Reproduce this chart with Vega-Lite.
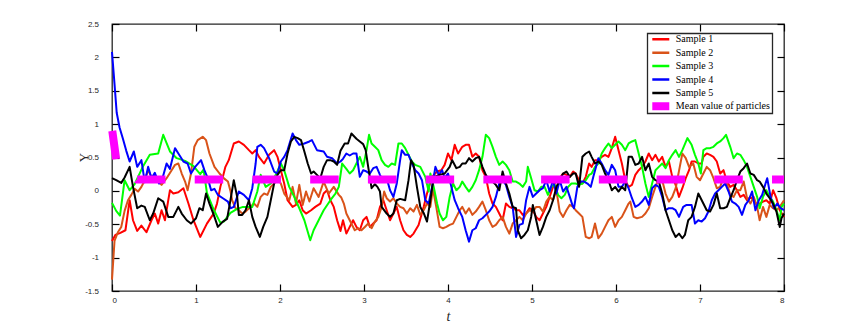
{
"$schema":"https://vega.github.io/schema/vega-lite/v6.json",
"width":672,"height":267,
"autosize":{"type":"none"},
"padding":{"left":112,"top":24,"right":82,"bottom":36},
"background":"white",
"config":{
"view":{"stroke":"#262626","strokeWidth":1.3},
"axis":{"labelFont":"Liberation Sans","labelFontSize":8,"labelColor":"#262626","ticks":true,"tickColor":"#000000","tickOpacity":1,"tickWidth":1.2,"tickSize":-7,"domain":false,"grid":false,"titleFont":"Liberation Serif","titleColor":"#262626","titleFontWeight":"normal","zindex":1}
},
"data":{"values":[
{"s":"Sample 1","t":0,"y":-0.75},{"s":"Sample 1","t":0.04,"y":-0.66},{"s":"Sample 1","t":0.1,"y":-0.63},{"s":"Sample 1","t":0.16,"y":-0.59},{"s":"Sample 1","t":0.21,"y":-0.14},{"s":"Sample 1","t":0.25,"y":-0.44},{"s":"Sample 1","t":0.3,"y":-0.6},{"s":"Sample 1","t":0.35,"y":-0.52},{"s":"Sample 1","t":0.41,"y":-0.62},{"s":"Sample 1","t":0.47,"y":-0.44},{"s":"Sample 1","t":0.51,"y":-0.34},{"s":"Sample 1","t":0.55,"y":-0.49},{"s":"Sample 1","t":0.59,"y":-0.29},{"s":"Sample 1","t":0.63,"y":-0.44},{"s":"Sample 1","t":0.69,"y":0.01},{"s":"Sample 1","t":0.73,"y":-0.04},{"s":"Sample 1","t":0.79,"y":-0.02},{"s":"Sample 1","t":0.85,"y":0.04},{"s":"Sample 1","t":0.91,"y":-0.19},{"s":"Sample 1","t":0.97,"y":-0.44},{"s":"Sample 1","t":1.05,"y":-0.69},{"s":"Sample 1","t":1.13,"y":-0.49},{"s":"Sample 1","t":1.21,"y":-0.34},{"s":"Sample 1","t":1.25,"y":-0.19},{"s":"Sample 1","t":1.29,"y":0.06},{"s":"Sample 1","t":1.35,"y":0.36},{"s":"Sample 1","t":1.39,"y":0.46},{"s":"Sample 1","t":1.45,"y":0.71},{"s":"Sample 1","t":1.51,"y":0.74},{"s":"Sample 1","t":1.57,"y":0.69},{"s":"Sample 1","t":1.63,"y":0.61},{"s":"Sample 1","t":1.67,"y":0.56},{"s":"Sample 1","t":1.71,"y":0.61},{"s":"Sample 1","t":1.75,"y":0.51},{"s":"Sample 1","t":1.81,"y":0.41},{"s":"Sample 1","t":1.87,"y":0.54},{"s":"Sample 1","t":1.93,"y":0.61},{"s":"Sample 1","t":1.97,"y":0.51},{"s":"Sample 1","t":2.01,"y":0.31},{"s":"Sample 1","t":2.05,"y":0.11},{"s":"Sample 1","t":2.09,"y":-0.14},{"s":"Sample 1","t":2.15,"y":-0.24},{"s":"Sample 1","t":2.19,"y":-0.21},{"s":"Sample 1","t":2.23,"y":-0.14},{"s":"Sample 1","t":2.27,"y":-0.29},{"s":"Sample 1","t":2.31,"y":-0.34},{"s":"Sample 1","t":2.37,"y":-0.29},{"s":"Sample 1","t":2.42,"y":-0.24},{"s":"Sample 1","t":2.48,"y":-0.19},{"s":"Sample 1","t":2.52,"y":-0.04},{"s":"Sample 1","t":2.56,"y":0.01},{"s":"Sample 1","t":2.6,"y":-0.14},{"s":"Sample 1","t":2.64,"y":-0.24},{"s":"Sample 1","t":2.68,"y":-0.44},{"s":"Sample 1","t":2.72,"y":-0.6},{"s":"Sample 1","t":2.75,"y":-0.44},{"s":"Sample 1","t":2.79,"y":-0.64},{"s":"Sample 1","t":2.83,"y":-0.54},{"s":"Sample 1","t":2.87,"y":-0.44},{"s":"Sample 1","t":2.91,"y":-0.54},{"s":"Sample 1","t":2.95,"y":-0.59},{"s":"Sample 1","t":2.99,"y":-0.44},{"s":"Sample 1","t":3.03,"y":-0.39},{"s":"Sample 1","t":3.07,"y":-0.54},{"s":"Sample 1","t":3.11,"y":-0.49},{"s":"Sample 1","t":3.15,"y":-0.44},{"s":"Sample 1","t":3.19,"y":-0.24},{"s":"Sample 1","t":3.23,"y":-0.14},{"s":"Sample 1","t":3.27,"y":-0.29},{"s":"Sample 1","t":3.31,"y":-0.44},{"s":"Sample 1","t":3.35,"y":-0.34},{"s":"Sample 1","t":3.39,"y":-0.24},{"s":"Sample 1","t":3.43,"y":-0.44},{"s":"Sample 1","t":3.47,"y":-0.59},{"s":"Sample 1","t":3.51,"y":-0.66},{"s":"Sample 1","t":3.55,"y":-0.69},{"s":"Sample 1","t":3.59,"y":-0.64},{"s":"Sample 1","t":3.65,"y":-0.51},{"s":"Sample 1","t":3.71,"y":-0.24},{"s":"Sample 1","t":3.75,"y":-0.04},{"s":"Sample 1","t":3.81,"y":0.21},{"s":"Sample 1","t":3.87,"y":0.29},{"s":"Sample 1","t":3.92,"y":0.31},{"s":"Sample 1","t":3.96,"y":0.39},{"s":"Sample 1","t":4.0,"y":0.56},{"s":"Sample 1","t":4.04,"y":0.46},{"s":"Sample 1","t":4.08,"y":0.69},{"s":"Sample 1","t":4.12,"y":0.56},{"s":"Sample 1","t":4.17,"y":0.66},{"s":"Sample 1","t":4.21,"y":0.69},{"s":"Sample 1","t":4.25,"y":0.69},{"s":"Sample 1","t":4.29,"y":0.51},{"s":"Sample 1","t":4.33,"y":0.56},{"s":"Sample 1","t":4.37,"y":0.51},{"s":"Sample 1","t":4.41,"y":0.31},{"s":"Sample 1","t":4.45,"y":0.21},{"s":"Sample 1","t":4.49,"y":-0.04},{"s":"Sample 1","t":4.53,"y":-0.19},{"s":"Sample 1","t":4.57,"y":-0.24},{"s":"Sample 1","t":4.61,"y":-0.34},{"s":"Sample 1","t":4.65,"y":-0.44},{"s":"Sample 1","t":4.69,"y":-0.19},{"s":"Sample 1","t":4.73,"y":-0.24},{"s":"Sample 1","t":4.77,"y":-0.26},{"s":"Sample 1","t":4.81,"y":-0.29},{"s":"Sample 1","t":4.85,"y":-0.29},{"s":"Sample 1","t":4.89,"y":-0.36},{"s":"Sample 1","t":4.93,"y":-0.34},{"s":"Sample 1","t":4.97,"y":-0.26},{"s":"Sample 1","t":5.01,"y":-0.29},{"s":"Sample 1","t":5.05,"y":-0.39},{"s":"Sample 1","t":5.09,"y":-0.44},{"s":"Sample 1","t":5.13,"y":-0.34},{"s":"Sample 1","t":5.17,"y":-0.24},{"s":"Sample 1","t":5.21,"y":-0.09},{"s":"Sample 1","t":5.25,"y":0.06},{"s":"Sample 1","t":5.29,"y":0.16},{"s":"Sample 1","t":5.33,"y":0.19},{"s":"Sample 1","t":5.37,"y":0.26},{"s":"Sample 1","t":5.41,"y":0.24},{"s":"Sample 1","t":5.45,"y":0.21},{"s":"Sample 1","t":5.49,"y":0.29},{"s":"Sample 1","t":5.52,"y":0.26},{"s":"Sample 1","t":5.56,"y":0.16},{"s":"Sample 1","t":5.6,"y":0.11},{"s":"Sample 1","t":5.64,"y":0.21},{"s":"Sample 1","t":5.68,"y":0.41},{"s":"Sample 1","t":5.71,"y":0.36},{"s":"Sample 1","t":5.75,"y":0.46},{"s":"Sample 1","t":5.79,"y":0.46},{"s":"Sample 1","t":5.83,"y":0.51},{"s":"Sample 1","t":5.87,"y":0.54},{"s":"Sample 1","t":5.91,"y":0.51},{"s":"Sample 1","t":5.95,"y":0.64},{"s":"Sample 1","t":5.99,"y":0.81},{"s":"Sample 1","t":6.03,"y":0.61},{"s":"Sample 1","t":6.07,"y":0.41},{"s":"Sample 1","t":6.11,"y":0.16},{"s":"Sample 1","t":6.15,"y":0.06},{"s":"Sample 1","t":6.19,"y":0.09},{"s":"Sample 1","t":6.23,"y":0.24},{"s":"Sample 1","t":6.27,"y":0.31},{"s":"Sample 1","t":6.31,"y":0.36},{"s":"Sample 1","t":6.35,"y":0.44},{"s":"Sample 1","t":6.39,"y":0.56},{"s":"Sample 1","t":6.43,"y":0.46},{"s":"Sample 1","t":6.47,"y":0.54},{"s":"Sample 1","t":6.51,"y":0.44},{"s":"Sample 1","t":6.55,"y":0.51},{"s":"Sample 1","t":6.59,"y":0.36},{"s":"Sample 1","t":6.63,"y":0.44},{"s":"Sample 1","t":6.67,"y":0.21},{"s":"Sample 1","t":6.71,"y":0.09},{"s":"Sample 1","t":6.75,"y":-0.09},{"s":"Sample 1","t":6.79,"y":0.04},{"s":"Sample 1","t":6.83,"y":0.19},{"s":"Sample 1","t":6.87,"y":0.31},{"s":"Sample 1","t":6.9,"y":0.44},{"s":"Sample 1","t":6.94,"y":0.44},{"s":"Sample 1","t":6.98,"y":0.41},{"s":"Sample 1","t":7.02,"y":0.41},{"s":"Sample 1","t":7.04,"y":0.51},{"s":"Sample 1","t":7.08,"y":0.56},{"s":"Sample 1","t":7.12,"y":0.54},{"s":"Sample 1","t":7.16,"y":0.51},{"s":"Sample 1","t":7.2,"y":0.44},{"s":"Sample 1","t":7.24,"y":0.26},{"s":"Sample 1","t":7.28,"y":0.31},{"s":"Sample 1","t":7.32,"y":0.14},{"s":"Sample 1","t":7.36,"y":0.06},{"s":"Sample 1","t":7.4,"y":0.09},{"s":"Sample 1","t":7.44,"y":0.01},{"s":"Sample 1","t":7.48,"y":-0.09},{"s":"Sample 1","t":7.52,"y":-0.06},{"s":"Sample 1","t":7.56,"y":-0.14},{"s":"Sample 1","t":7.6,"y":-0.09},{"s":"Sample 1","t":7.64,"y":-0.14},{"s":"Sample 1","t":7.68,"y":-0.21},{"s":"Sample 1","t":7.71,"y":-0.19},{"s":"Sample 1","t":7.75,"y":-0.16},{"s":"Sample 1","t":7.79,"y":-0.14},{"s":"Sample 1","t":7.83,"y":-0.19},{"s":"Sample 1","t":7.87,"y":0.01},{"s":"Sample 1","t":7.91,"y":-0.11},{"s":"Sample 1","t":7.95,"y":-0.29},{"s":"Sample 1","t":8.0,"y":-0.39},
{"s":"Sample 2","t":0,"y":-1.33},{"s":"Sample 2","t":0.03,"y":-0.75},{"s":"Sample 2","t":0.07,"y":-0.62},{"s":"Sample 2","t":0.11,"y":-0.54},{"s":"Sample 2","t":0.15,"y":-0.3},{"s":"Sample 2","t":0.19,"y":-0.14},{"s":"Sample 2","t":0.23,"y":-0.06},{"s":"Sample 2","t":0.27,"y":0.03},{"s":"Sample 2","t":0.31,"y":-0.01},{"s":"Sample 2","t":0.35,"y":0.06},{"s":"Sample 2","t":0.39,"y":0.16},{"s":"Sample 2","t":0.43,"y":0.31},{"s":"Sample 2","t":0.47,"y":0.21},{"s":"Sample 2","t":0.53,"y":0.16},{"s":"Sample 2","t":0.59,"y":0.09},{"s":"Sample 2","t":0.65,"y":0.19},{"s":"Sample 2","t":0.71,"y":0.31},{"s":"Sample 2","t":0.75,"y":0.39},{"s":"Sample 2","t":0.79,"y":0.41},{"s":"Sample 2","t":0.83,"y":0.26},{"s":"Sample 2","t":0.87,"y":0.14},{"s":"Sample 2","t":0.9,"y":0.01},{"s":"Sample 2","t":0.94,"y":0.26},{"s":"Sample 2","t":0.98,"y":0.66},{"s":"Sample 2","t":1.02,"y":0.76},{"s":"Sample 2","t":1.08,"y":0.81},{"s":"Sample 2","t":1.12,"y":0.76},{"s":"Sample 2","t":1.16,"y":0.56},{"s":"Sample 2","t":1.22,"y":0.36},{"s":"Sample 2","t":1.28,"y":0.26},{"s":"Sample 2","t":1.34,"y":0.18},{"s":"Sample 2","t":1.38,"y":0.14},{"s":"Sample 2","t":1.41,"y":0.0},{"s":"Sample 2","t":1.43,"y":-0.14},{"s":"Sample 2","t":1.47,"y":-0.26},{"s":"Sample 2","t":1.51,"y":-0.29},{"s":"Sample 2","t":1.55,"y":-0.34},{"s":"Sample 2","t":1.59,"y":-0.31},{"s":"Sample 2","t":1.63,"y":-0.26},{"s":"Sample 2","t":1.69,"y":-0.19},{"s":"Sample 2","t":1.73,"y":-0.24},{"s":"Sample 2","t":1.77,"y":-0.09},{"s":"Sample 2","t":1.81,"y":-0.04},{"s":"Sample 2","t":1.85,"y":-0.06},{"s":"Sample 2","t":1.89,"y":0.06},{"s":"Sample 2","t":1.93,"y":0.11},{"s":"Sample 2","t":1.97,"y":0.19},{"s":"Sample 2","t":2.01,"y":0.11},{"s":"Sample 2","t":2.05,"y":-0.04},{"s":"Sample 2","t":2.11,"y":-0.14},{"s":"Sample 2","t":2.15,"y":0.06},{"s":"Sample 2","t":2.19,"y":-0.19},{"s":"Sample 2","t":2.23,"y":0.09},{"s":"Sample 2","t":2.27,"y":-0.21},{"s":"Sample 2","t":2.31,"y":-0.01},{"s":"Sample 2","t":2.35,"y":-0.16},{"s":"Sample 2","t":2.4,"y":0.04},{"s":"Sample 2","t":2.46,"y":-0.09},{"s":"Sample 2","t":2.52,"y":0.14},{"s":"Sample 2","t":2.58,"y":-0.04},{"s":"Sample 2","t":2.64,"y":0.06},{"s":"Sample 2","t":2.7,"y":-0.06},{"s":"Sample 2","t":2.73,"y":-0.1},{"s":"Sample 2","t":2.76,"y":-0.19},{"s":"Sample 2","t":2.79,"y":-0.34},{"s":"Sample 2","t":2.83,"y":-0.44},{"s":"Sample 2","t":2.89,"y":-0.59},{"s":"Sample 2","t":2.93,"y":-0.56},{"s":"Sample 2","t":2.97,"y":-0.59},{"s":"Sample 2","t":3.01,"y":-0.54},{"s":"Sample 2","t":3.05,"y":-0.49},{"s":"Sample 2","t":3.09,"y":-0.56},{"s":"Sample 2","t":3.13,"y":-0.46},{"s":"Sample 2","t":3.17,"y":-0.39},{"s":"Sample 2","t":3.21,"y":-0.24},{"s":"Sample 2","t":3.24,"y":-0.01},{"s":"Sample 2","t":3.27,"y":-0.11},{"s":"Sample 2","t":3.31,"y":-0.16},{"s":"Sample 2","t":3.35,"y":-0.11},{"s":"Sample 2","t":3.39,"y":-0.19},{"s":"Sample 2","t":3.43,"y":-0.24},{"s":"Sample 2","t":3.47,"y":-0.26},{"s":"Sample 2","t":3.51,"y":-0.34},{"s":"Sample 2","t":3.55,"y":-0.26},{"s":"Sample 2","t":3.59,"y":-0.31},{"s":"Sample 2","t":3.63,"y":-0.21},{"s":"Sample 2","t":3.67,"y":-0.36},{"s":"Sample 2","t":3.71,"y":-0.29},{"s":"Sample 2","t":3.75,"y":-0.19},{"s":"Sample 2","t":3.79,"y":-0.24},{"s":"Sample 2","t":3.82,"y":0.03},{"s":"Sample 2","t":3.86,"y":-0.24},{"s":"Sample 2","t":3.9,"y":-0.54},{"s":"Sample 2","t":3.94,"y":-0.56},{"s":"Sample 2","t":3.98,"y":-0.54},{"s":"Sample 2","t":4.02,"y":-0.51},{"s":"Sample 2","t":4.06,"y":-0.49},{"s":"Sample 2","t":4.1,"y":-0.39},{"s":"Sample 2","t":4.14,"y":-0.29},{"s":"Sample 2","t":4.17,"y":-0.24},{"s":"Sample 2","t":4.21,"y":-0.34},{"s":"Sample 2","t":4.25,"y":-0.26},{"s":"Sample 2","t":4.29,"y":-0.36},{"s":"Sample 2","t":4.33,"y":-0.31},{"s":"Sample 2","t":4.37,"y":-0.24},{"s":"Sample 2","t":4.41,"y":-0.16},{"s":"Sample 2","t":4.45,"y":-0.29},{"s":"Sample 2","t":4.49,"y":-0.44},{"s":"Sample 2","t":4.53,"y":-0.54},{"s":"Sample 2","t":4.57,"y":-0.51},{"s":"Sample 2","t":4.61,"y":-0.44},{"s":"Sample 2","t":4.65,"y":-0.39},{"s":"Sample 2","t":4.69,"y":-0.54},{"s":"Sample 2","t":4.73,"y":-0.64},{"s":"Sample 2","t":4.77,"y":-0.49},{"s":"Sample 2","t":4.81,"y":-0.44},{"s":"Sample 2","t":4.85,"y":-0.39},{"s":"Sample 2","t":4.89,"y":-0.44},{"s":"Sample 2","t":4.93,"y":-0.34},{"s":"Sample 2","t":4.97,"y":-0.29},{"s":"Sample 2","t":5.01,"y":-0.31},{"s":"Sample 2","t":5.05,"y":-0.24},{"s":"Sample 2","t":5.09,"y":-0.24},{"s":"Sample 2","t":5.13,"y":-0.31},{"s":"Sample 2","t":5.17,"y":-0.16},{"s":"Sample 2","t":5.21,"y":-0.09},{"s":"Sample 2","t":5.25,"y":-0.14},{"s":"Sample 2","t":5.29,"y":0.01},{"s":"Sample 2","t":5.33,"y":-0.31},{"s":"Sample 2","t":5.37,"y":-0.39},{"s":"Sample 2","t":5.41,"y":-0.29},{"s":"Sample 2","t":5.45,"y":-0.21},{"s":"Sample 2","t":5.49,"y":-0.24},{"s":"Sample 2","t":5.52,"y":-0.29},{"s":"Sample 2","t":5.56,"y":-0.34},{"s":"Sample 2","t":5.6,"y":-0.39},{"s":"Sample 2","t":5.64,"y":-0.69},{"s":"Sample 2","t":5.68,"y":-0.71},{"s":"Sample 2","t":5.71,"y":-0.69},{"s":"Sample 2","t":5.75,"y":-0.49},{"s":"Sample 2","t":5.79,"y":-0.71},{"s":"Sample 2","t":5.83,"y":-0.64},{"s":"Sample 2","t":5.87,"y":-0.54},{"s":"Sample 2","t":5.91,"y":-0.44},{"s":"Sample 2","t":5.95,"y":-0.39},{"s":"Sample 2","t":5.99,"y":-0.54},{"s":"Sample 2","t":6.03,"y":-0.44},{"s":"Sample 2","t":6.07,"y":-0.39},{"s":"Sample 2","t":6.11,"y":-0.29},{"s":"Sample 2","t":6.15,"y":-0.19},{"s":"Sample 2","t":6.17,"y":-0.16},{"s":"Sample 2","t":6.21,"y":-0.39},{"s":"Sample 2","t":6.25,"y":-0.41},{"s":"Sample 2","t":6.31,"y":-0.39},{"s":"Sample 2","t":6.35,"y":-0.34},{"s":"Sample 2","t":6.39,"y":-0.26},{"s":"Sample 2","t":6.43,"y":-0.09},{"s":"Sample 2","t":6.47,"y":0.06},{"s":"Sample 2","t":6.51,"y":0.19},{"s":"Sample 2","t":6.55,"y":0.16},{"s":"Sample 2","t":6.59,"y":-0.04},{"s":"Sample 2","t":6.63,"y":-0.16},{"s":"Sample 2","t":6.67,"y":-0.09},{"s":"Sample 2","t":6.71,"y":0.04},{"s":"Sample 2","t":6.75,"y":0.3},{"s":"Sample 2","t":6.79,"y":0.56},{"s":"Sample 2","t":6.83,"y":0.49},{"s":"Sample 2","t":6.87,"y":0.36},{"s":"Sample 2","t":6.92,"y":0.41},{"s":"Sample 2","t":6.96,"y":0.21},{"s":"Sample 2","t":7.0,"y":0.16},{"s":"Sample 2","t":7.04,"y":0.26},{"s":"Sample 2","t":7.08,"y":0.36},{"s":"Sample 2","t":7.12,"y":0.31},{"s":"Sample 2","t":7.16,"y":0.19},{"s":"Sample 2","t":7.2,"y":0.04},{"s":"Sample 2","t":7.24,"y":0.06},{"s":"Sample 2","t":7.28,"y":0.21},{"s":"Sample 2","t":7.32,"y":0.11},{"s":"Sample 2","t":7.36,"y":-0.06},{"s":"Sample 2","t":7.4,"y":-0.09},{"s":"Sample 2","t":7.44,"y":0.01},{"s":"Sample 2","t":7.48,"y":0.01},{"s":"Sample 2","t":7.52,"y":0.14},{"s":"Sample 2","t":7.56,"y":-0.11},{"s":"Sample 2","t":7.6,"y":-0.19},{"s":"Sample 2","t":7.64,"y":-0.09},{"s":"Sample 2","t":7.68,"y":-0.24},{"s":"Sample 2","t":7.71,"y":-0.44},{"s":"Sample 2","t":7.75,"y":-0.24},{"s":"Sample 2","t":7.79,"y":-0.39},{"s":"Sample 2","t":7.83,"y":-0.21},{"s":"Sample 2","t":7.87,"y":-0.26},{"s":"Sample 2","t":7.91,"y":-0.29},{"s":"Sample 2","t":7.95,"y":-0.24},{"s":"Sample 2","t":8.0,"y":-0.14},
{"s":"Sample 3","t":0,"y":-0.18},{"s":"Sample 3","t":0.05,"y":-0.3},{"s":"Sample 3","t":0.095,"y":-0.37},{"s":"Sample 3","t":0.15,"y":0.16},{"s":"Sample 3","t":0.21,"y":0.01},{"s":"Sample 3","t":0.27,"y":0.1},{"s":"Sample 3","t":0.37,"y":0.37},{"s":"Sample 3","t":0.45,"y":0.54},{"s":"Sample 3","t":0.55,"y":0.56},{"s":"Sample 3","t":0.61,"y":0.84},{"s":"Sample 3","t":0.69,"y":0.59},{"s":"Sample 3","t":0.77,"y":0.49},{"s":"Sample 3","t":0.87,"y":0.45},{"s":"Sample 3","t":0.97,"y":0.37},{"s":"Sample 3","t":1.05,"y":0.25},{"s":"Sample 3","t":1.09,"y":0.32},{"s":"Sample 3","t":1.13,"y":-0.03},{"s":"Sample 3","t":1.21,"y":-0.28},{"s":"Sample 3","t":1.29,"y":-0.48},{"s":"Sample 3","t":1.33,"y":-0.46},{"s":"Sample 3","t":1.41,"y":-0.33},{"s":"Sample 3","t":1.49,"y":-0.27},{"s":"Sample 3","t":1.56,"y":-0.24},{"s":"Sample 3","t":1.67,"y":-0.24},{"s":"Sample 3","t":1.73,"y":-0.01},{"s":"Sample 3","t":1.77,"y":0.24},{"s":"Sample 3","t":1.83,"y":0.06},{"s":"Sample 3","t":1.89,"y":0.11},{"s":"Sample 3","t":1.95,"y":0.24},{"s":"Sample 3","t":2.01,"y":0.41},{"s":"Sample 3","t":2.05,"y":0.31},{"s":"Sample 3","t":2.11,"y":0.06},{"s":"Sample 3","t":2.17,"y":-0.09},{"s":"Sample 3","t":2.23,"y":-0.26},{"s":"Sample 3","t":2.29,"y":-0.44},{"s":"Sample 3","t":2.36,"y":-0.74},{"s":"Sample 3","t":2.4,"y":-0.59},{"s":"Sample 3","t":2.46,"y":-0.44},{"s":"Sample 3","t":2.52,"y":-0.29},{"s":"Sample 3","t":2.6,"y":-0.14},{"s":"Sample 3","t":2.66,"y":-0.04},{"s":"Sample 3","t":2.7,"y":0.06},{"s":"Sample 3","t":2.74,"y":0.41},{"s":"Sample 3","t":2.79,"y":0.33},{"s":"Sample 3","t":2.83,"y":0.26},{"s":"Sample 3","t":2.87,"y":0.31},{"s":"Sample 3","t":2.91,"y":0.41},{"s":"Sample 3","t":2.95,"y":0.51},{"s":"Sample 3","t":2.99,"y":0.36},{"s":"Sample 3","t":3.03,"y":0.61},{"s":"Sample 3","t":3.06,"y":0.84},{"s":"Sample 3","t":3.09,"y":0.71},{"s":"Sample 3","t":3.13,"y":0.66},{"s":"Sample 3","t":3.17,"y":0.61},{"s":"Sample 3","t":3.21,"y":0.46},{"s":"Sample 3","t":3.25,"y":0.39},{"s":"Sample 3","t":3.29,"y":0.36},{"s":"Sample 3","t":3.33,"y":0.41},{"s":"Sample 3","t":3.37,"y":0.39},{"s":"Sample 3","t":3.41,"y":0.71},{"s":"Sample 3","t":3.45,"y":0.71},{"s":"Sample 3","t":3.49,"y":0.64},{"s":"Sample 3","t":3.53,"y":0.54},{"s":"Sample 3","t":3.57,"y":0.44},{"s":"Sample 3","t":3.61,"y":0.39},{"s":"Sample 3","t":3.67,"y":0.36},{"s":"Sample 3","t":3.73,"y":0.21},{"s":"Sample 3","t":3.77,"y":-0.01},{"s":"Sample 3","t":3.79,"y":0.26},{"s":"Sample 3","t":3.83,"y":0.06},{"s":"Sample 3","t":3.87,"y":-0.19},{"s":"Sample 3","t":3.9,"y":-0.34},{"s":"Sample 3","t":3.94,"y":-0.44},{"s":"Sample 3","t":3.98,"y":-0.39},{"s":"Sample 3","t":4.02,"y":-0.09},{"s":"Sample 3","t":4.06,"y":0.11},{"s":"Sample 3","t":4.1,"y":0.01},{"s":"Sample 3","t":4.14,"y":0.06},{"s":"Sample 3","t":4.17,"y":0.14},{"s":"Sample 3","t":4.21,"y":0.06},{"s":"Sample 3","t":4.25,"y":-0.01},{"s":"Sample 3","t":4.29,"y":0.06},{"s":"Sample 3","t":4.33,"y":0.16},{"s":"Sample 3","t":4.37,"y":0.31},{"s":"Sample 3","t":4.41,"y":0.51},{"s":"Sample 3","t":4.45,"y":0.84},{"s":"Sample 3","t":4.49,"y":0.79},{"s":"Sample 3","t":4.53,"y":0.66},{"s":"Sample 3","t":4.57,"y":0.51},{"s":"Sample 3","t":4.61,"y":0.39},{"s":"Sample 3","t":4.65,"y":0.44},{"s":"Sample 3","t":4.69,"y":0.39},{"s":"Sample 3","t":4.73,"y":0.31},{"s":"Sample 3","t":4.77,"y":0.14},{"s":"Sample 3","t":4.81,"y":0.14},{"s":"Sample 3","t":4.85,"y":0.11},{"s":"Sample 3","t":4.89,"y":0.06},{"s":"Sample 3","t":4.93,"y":0.14},{"s":"Sample 3","t":4.95,"y":0.36},{"s":"Sample 3","t":4.99,"y":0.19},{"s":"Sample 3","t":5.03,"y":0.01},{"s":"Sample 3","t":5.07,"y":-0.01},{"s":"Sample 3","t":5.11,"y":0.06},{"s":"Sample 3","t":5.15,"y":0.06},{"s":"Sample 3","t":5.19,"y":-0.06},{"s":"Sample 3","t":5.23,"y":0.06},{"s":"Sample 3","t":5.27,"y":0.09},{"s":"Sample 3","t":5.31,"y":-0.06},{"s":"Sample 3","t":5.35,"y":-0.11},{"s":"Sample 3","t":5.39,"y":-0.06},{"s":"Sample 3","t":5.43,"y":0.06},{"s":"Sample 3","t":5.47,"y":0.11},{"s":"Sample 3","t":5.52,"y":0.11},{"s":"Sample 3","t":5.56,"y":0.09},{"s":"Sample 3","t":5.6,"y":0.11},{"s":"Sample 3","t":5.64,"y":0.16},{"s":"Sample 3","t":5.68,"y":0.24},{"s":"Sample 3","t":5.71,"y":0.26},{"s":"Sample 3","t":5.75,"y":0.36},{"s":"Sample 3","t":5.79,"y":0.41},{"s":"Sample 3","t":5.83,"y":0.56},{"s":"Sample 3","t":5.87,"y":0.64},{"s":"Sample 3","t":5.91,"y":0.71},{"s":"Sample 3","t":5.95,"y":0.64},{"s":"Sample 3","t":5.99,"y":0.69},{"s":"Sample 3","t":6.03,"y":0.74},{"s":"Sample 3","t":6.07,"y":0.69},{"s":"Sample 3","t":6.11,"y":0.61},{"s":"Sample 3","t":6.15,"y":0.71},{"s":"Sample 3","t":6.19,"y":0.74},{"s":"Sample 3","t":6.23,"y":0.76},{"s":"Sample 3","t":6.27,"y":0.56},{"s":"Sample 3","t":6.31,"y":0.36},{"s":"Sample 3","t":6.35,"y":0.11},{"s":"Sample 3","t":6.39,"y":-0.09},{"s":"Sample 3","t":6.43,"y":0.11},{"s":"Sample 3","t":6.47,"y":0.31},{"s":"Sample 3","t":6.51,"y":0.36},{"s":"Sample 3","t":6.55,"y":0.41},{"s":"Sample 3","t":6.59,"y":0.34},{"s":"Sample 3","t":6.63,"y":0.46},{"s":"Sample 3","t":6.67,"y":0.54},{"s":"Sample 3","t":6.71,"y":0.61},{"s":"Sample 3","t":6.75,"y":0.51},{"s":"Sample 3","t":6.79,"y":0.61},{"s":"Sample 3","t":6.85,"y":0.79},{"s":"Sample 3","t":6.9,"y":0.69},{"s":"Sample 3","t":6.94,"y":0.54},{"s":"Sample 3","t":6.98,"y":0.41},{"s":"Sample 3","t":7.01,"y":0.26},{"s":"Sample 3","t":7.04,"y":0.61},{"s":"Sample 3","t":7.08,"y":0.64},{"s":"Sample 3","t":7.12,"y":0.64},{"s":"Sample 3","t":7.16,"y":0.66},{"s":"Sample 3","t":7.2,"y":0.71},{"s":"Sample 3","t":7.24,"y":0.74},{"s":"Sample 3","t":7.28,"y":0.79},{"s":"Sample 3","t":7.31,"y":0.84},{"s":"Sample 3","t":7.36,"y":0.66},{"s":"Sample 3","t":7.4,"y":0.49},{"s":"Sample 3","t":7.44,"y":0.56},{"s":"Sample 3","t":7.48,"y":0.54},{"s":"Sample 3","t":7.52,"y":0.46},{"s":"Sample 3","t":7.56,"y":0.36},{"s":"Sample 3","t":7.6,"y":0.21},{"s":"Sample 3","t":7.64,"y":0.06},{"s":"Sample 3","t":7.68,"y":-0.09},{"s":"Sample 3","t":7.71,"y":-0.26},{"s":"Sample 3","t":7.75,"y":-0.09},{"s":"Sample 3","t":7.79,"y":0.01},{"s":"Sample 3","t":7.83,"y":-0.09},{"s":"Sample 3","t":7.87,"y":-0.16},{"s":"Sample 3","t":7.91,"y":-0.29},{"s":"Sample 3","t":7.95,"y":-0.44},{"s":"Sample 3","t":7.97,"y":-0.24},{"s":"Sample 3","t":8.0,"y":-0.19},
{"s":"Sample 4","t":0,"y":2.08},{"s":"Sample 4","t":0.03,"y":1.6},{"s":"Sample 4","t":0.056,"y":1.17},{"s":"Sample 4","t":0.09,"y":0.95},{"s":"Sample 4","t":0.13,"y":0.78},{"s":"Sample 4","t":0.17,"y":0.6},{"s":"Sample 4","t":0.21,"y":0.44},{"s":"Sample 4","t":0.26,"y":0.59},{"s":"Sample 4","t":0.3,"y":0.36},{"s":"Sample 4","t":0.35,"y":0.46},{"s":"Sample 4","t":0.39,"y":0.13},{"s":"Sample 4","t":0.43,"y":0.36},{"s":"Sample 4","t":0.47,"y":0.19},{"s":"Sample 4","t":0.51,"y":0.27},{"s":"Sample 4","t":0.56,"y":0.11},{"s":"Sample 4","t":0.59,"y":0.14},{"s":"Sample 4","t":0.65,"y":0.41},{"s":"Sample 4","t":0.69,"y":0.33},{"s":"Sample 4","t":0.75,"y":0.64},{"s":"Sample 4","t":0.79,"y":0.56},{"s":"Sample 4","t":0.85,"y":0.44},{"s":"Sample 4","t":0.9,"y":0.41},{"s":"Sample 4","t":0.94,"y":0.26},{"s":"Sample 4","t":0.99,"y":0.36},{"s":"Sample 4","t":1.06,"y":0.46},{"s":"Sample 4","t":1.1,"y":0.31},{"s":"Sample 4","t":1.14,"y":0.19},{"s":"Sample 4","t":1.18,"y":0.01},{"s":"Sample 4","t":1.22,"y":0.03},{"s":"Sample 4","t":1.26,"y":-0.06},{"s":"Sample 4","t":1.32,"y":-0.11},{"s":"Sample 4","t":1.38,"y":-0.16},{"s":"Sample 4","t":1.41,"y":-0.26},{"s":"Sample 4","t":1.45,"y":-0.24},{"s":"Sample 4","t":1.51,"y":-0.01},{"s":"Sample 4","t":1.57,"y":-0.06},{"s":"Sample 4","t":1.63,"y":-0.14},{"s":"Sample 4","t":1.67,"y":0.04},{"s":"Sample 4","t":1.71,"y":0.41},{"s":"Sample 4","t":1.73,"y":0.66},{"s":"Sample 4","t":1.77,"y":0.69},{"s":"Sample 4","t":1.81,"y":0.64},{"s":"Sample 4","t":1.87,"y":0.49},{"s":"Sample 4","t":1.93,"y":0.29},{"s":"Sample 4","t":1.97,"y":0.26},{"s":"Sample 4","t":2.01,"y":0.44},{"s":"Sample 4","t":2.05,"y":0.51},{"s":"Sample 4","t":2.09,"y":0.61},{"s":"Sample 4","t":2.15,"y":0.86},{"s":"Sample 4","t":2.19,"y":0.76},{"s":"Sample 4","t":2.23,"y":0.69},{"s":"Sample 4","t":2.29,"y":0.71},{"s":"Sample 4","t":2.35,"y":0.74},{"s":"Sample 4","t":2.38,"y":0.76},{"s":"Sample 4","t":2.44,"y":0.61},{"s":"Sample 4","t":2.52,"y":0.59},{"s":"Sample 4","t":2.56,"y":0.51},{"s":"Sample 4","t":2.62,"y":0.49},{"s":"Sample 4","t":2.68,"y":0.41},{"s":"Sample 4","t":2.72,"y":0.44},{"s":"Sample 4","t":2.75,"y":0.48},{"s":"Sample 4","t":2.79,"y":0.56},{"s":"Sample 4","t":2.83,"y":0.53},{"s":"Sample 4","t":2.87,"y":0.56},{"s":"Sample 4","t":2.91,"y":0.56},{"s":"Sample 4","t":2.95,"y":0.21},{"s":"Sample 4","t":2.99,"y":0.31},{"s":"Sample 4","t":3.03,"y":0.29},{"s":"Sample 4","t":3.07,"y":0.26},{"s":"Sample 4","t":3.11,"y":0.34},{"s":"Sample 4","t":3.15,"y":0.36},{"s":"Sample 4","t":3.19,"y":0.24},{"s":"Sample 4","t":3.23,"y":0.14},{"s":"Sample 4","t":3.27,"y":0.19},{"s":"Sample 4","t":3.31,"y":0.01},{"s":"Sample 4","t":3.35,"y":-0.09},{"s":"Sample 4","t":3.39,"y":0.11},{"s":"Sample 4","t":3.43,"y":0.46},{"s":"Sample 4","t":3.45,"y":0.61},{"s":"Sample 4","t":3.49,"y":0.54},{"s":"Sample 4","t":3.53,"y":0.54},{"s":"Sample 4","t":3.57,"y":0.41},{"s":"Sample 4","t":3.61,"y":0.31},{"s":"Sample 4","t":3.65,"y":0.26},{"s":"Sample 4","t":3.69,"y":0.16},{"s":"Sample 4","t":3.73,"y":-0.14},{"s":"Sample 4","t":3.77,"y":-0.19},{"s":"Sample 4","t":3.81,"y":0.06},{"s":"Sample 4","t":3.85,"y":0.36},{"s":"Sample 4","t":3.89,"y":0.24},{"s":"Sample 4","t":3.93,"y":0.31},{"s":"Sample 4","t":3.96,"y":0.19},{"s":"Sample 4","t":4.0,"y":0.26},{"s":"Sample 4","t":4.04,"y":0.06},{"s":"Sample 4","t":4.08,"y":-0.14},{"s":"Sample 4","t":4.12,"y":-0.26},{"s":"Sample 4","t":4.17,"y":-0.39},{"s":"Sample 4","t":4.21,"y":-0.59},{"s":"Sample 4","t":4.25,"y":-0.76},{"s":"Sample 4","t":4.29,"y":-0.59},{"s":"Sample 4","t":4.33,"y":-0.56},{"s":"Sample 4","t":4.37,"y":-0.44},{"s":"Sample 4","t":4.41,"y":-0.41},{"s":"Sample 4","t":4.45,"y":-0.36},{"s":"Sample 4","t":4.49,"y":-0.31},{"s":"Sample 4","t":4.53,"y":-0.24},{"s":"Sample 4","t":4.57,"y":-0.09},{"s":"Sample 4","t":4.61,"y":0.11},{"s":"Sample 4","t":4.65,"y":0.16},{"s":"Sample 4","t":4.69,"y":0.09},{"s":"Sample 4","t":4.73,"y":-0.09},{"s":"Sample 4","t":4.77,"y":-0.24},{"s":"Sample 4","t":4.81,"y":-0.69},{"s":"Sample 4","t":4.85,"y":-0.51},{"s":"Sample 4","t":4.89,"y":-0.49},{"s":"Sample 4","t":4.93,"y":-0.14},{"s":"Sample 4","t":4.97,"y":0.06},{"s":"Sample 4","t":5.01,"y":-0.09},{"s":"Sample 4","t":5.05,"y":-0.04},{"s":"Sample 4","t":5.09,"y":0.01},{"s":"Sample 4","t":5.13,"y":0.04},{"s":"Sample 4","t":5.17,"y":0.16},{"s":"Sample 4","t":5.21,"y":-0.01},{"s":"Sample 4","t":5.25,"y":0.16},{"s":"Sample 4","t":5.29,"y":-0.04},{"s":"Sample 4","t":5.33,"y":0.16},{"s":"Sample 4","t":5.37,"y":-0.01},{"s":"Sample 4","t":5.41,"y":0.06},{"s":"Sample 4","t":5.45,"y":-0.09},{"s":"Sample 4","t":5.48,"y":-0.21},{"s":"Sample 4","t":5.5,"y":-0.26},{"s":"Sample 4","t":5.54,"y":0.06},{"s":"Sample 4","t":5.58,"y":0.14},{"s":"Sample 4","t":5.62,"y":0.14},{"s":"Sample 4","t":5.66,"y":0.11},{"s":"Sample 4","t":5.7,"y":0.06},{"s":"Sample 4","t":5.73,"y":0.21},{"s":"Sample 4","t":5.79,"y":0.49},{"s":"Sample 4","t":5.83,"y":0.41},{"s":"Sample 4","t":5.87,"y":0.31},{"s":"Sample 4","t":5.91,"y":0.24},{"s":"Sample 4","t":5.95,"y":0.39},{"s":"Sample 4","t":5.99,"y":0.31},{"s":"Sample 4","t":6.03,"y":0.06},{"s":"Sample 4","t":6.07,"y":0.06},{"s":"Sample 4","t":6.11,"y":0.14},{"s":"Sample 4","t":6.15,"y":0.04},{"s":"Sample 4","t":6.19,"y":-0.11},{"s":"Sample 4","t":6.23,"y":-0.24},{"s":"Sample 4","t":6.27,"y":-0.21},{"s":"Sample 4","t":6.31,"y":-0.16},{"s":"Sample 4","t":6.35,"y":-0.09},{"s":"Sample 4","t":6.39,"y":-0.21},{"s":"Sample 4","t":6.43,"y":0.04},{"s":"Sample 4","t":6.47,"y":0.09},{"s":"Sample 4","t":6.51,"y":0.06},{"s":"Sample 4","t":6.55,"y":-0.09},{"s":"Sample 4","t":6.59,"y":-0.29},{"s":"Sample 4","t":6.63,"y":-0.26},{"s":"Sample 4","t":6.67,"y":-0.26},{"s":"Sample 4","t":6.71,"y":-0.29},{"s":"Sample 4","t":6.75,"y":-0.39},{"s":"Sample 4","t":6.8,"y":-0.24},{"s":"Sample 4","t":6.84,"y":-0.21},{"s":"Sample 4","t":6.9,"y":-0.21},{"s":"Sample 4","t":6.94,"y":-0.49},{"s":"Sample 4","t":6.98,"y":-0.44},{"s":"Sample 4","t":7.02,"y":-0.46},{"s":"Sample 4","t":7.06,"y":-0.41},{"s":"Sample 4","t":7.1,"y":-0.31},{"s":"Sample 4","t":7.14,"y":-0.14},{"s":"Sample 4","t":7.18,"y":-0.04},{"s":"Sample 4","t":7.22,"y":0.01},{"s":"Sample 4","t":7.26,"y":0.06},{"s":"Sample 4","t":7.3,"y":0.11},{"s":"Sample 4","t":7.34,"y":-0.01},{"s":"Sample 4","t":7.38,"y":-0.16},{"s":"Sample 4","t":7.42,"y":-0.19},{"s":"Sample 4","t":7.46,"y":-0.24},{"s":"Sample 4","t":7.5,"y":-0.36},{"s":"Sample 4","t":7.54,"y":-0.21},{"s":"Sample 4","t":7.58,"y":-0.14},{"s":"Sample 4","t":7.62,"y":-0.01},{"s":"Sample 4","t":7.66,"y":-0.29},{"s":"Sample 4","t":7.7,"y":-0.14},{"s":"Sample 4","t":7.74,"y":-0.06},{"s":"Sample 4","t":7.78,"y":0.11},{"s":"Sample 4","t":7.8,"y":0.19},{"s":"Sample 4","t":7.84,"y":-0.09},{"s":"Sample 4","t":7.88,"y":-0.26},{"s":"Sample 4","t":7.92,"y":-0.19},{"s":"Sample 4","t":7.96,"y":-0.26},{"s":"Sample 4","t":8.0,"y":-0.29},
{"s":"Sample 5","t":0,"y":0.19},{"s":"Sample 5","t":0.05,"y":0.16},{"s":"Sample 5","t":0.11,"y":0.12},{"s":"Sample 5","t":0.15,"y":0.2},{"s":"Sample 5","t":0.21,"y":0.36},{"s":"Sample 5","t":0.25,"y":0.06},{"s":"Sample 5","t":0.3,"y":-0.26},{"s":"Sample 5","t":0.35,"y":-0.22},{"s":"Sample 5","t":0.39,"y":-0.24},{"s":"Sample 5","t":0.45,"y":-0.44},{"s":"Sample 5","t":0.49,"y":-0.34},{"s":"Sample 5","t":0.55,"y":-0.11},{"s":"Sample 5","t":0.61,"y":-0.16},{"s":"Sample 5","t":0.67,"y":-0.39},{"s":"Sample 5","t":0.73,"y":-0.39},{"s":"Sample 5","t":0.79,"y":-0.24},{"s":"Sample 5","t":0.83,"y":-0.34},{"s":"Sample 5","t":0.89,"y":-0.44},{"s":"Sample 5","t":0.94,"y":-0.49},{"s":"Sample 5","t":1.0,"y":-0.41},{"s":"Sample 5","t":1.04,"y":-0.26},{"s":"Sample 5","t":1.08,"y":-0.29},{"s":"Sample 5","t":1.12,"y":-0.04},{"s":"Sample 5","t":1.16,"y":-0.19},{"s":"Sample 5","t":1.22,"y":-0.39},{"s":"Sample 5","t":1.26,"y":-0.54},{"s":"Sample 5","t":1.32,"y":-0.46},{"s":"Sample 5","t":1.37,"y":-0.42},{"s":"Sample 5","t":1.41,"y":-0.14},{"s":"Sample 5","t":1.45,"y":0.16},{"s":"Sample 5","t":1.49,"y":-0.09},{"s":"Sample 5","t":1.51,"y":-0.36},{"s":"Sample 5","t":1.55,"y":-0.36},{"s":"Sample 5","t":1.59,"y":-0.29},{"s":"Sample 5","t":1.63,"y":-0.14},{"s":"Sample 5","t":1.67,"y":-0.39},{"s":"Sample 5","t":1.71,"y":-0.54},{"s":"Sample 5","t":1.76,"y":-0.69},{"s":"Sample 5","t":1.8,"y":-0.54},{"s":"Sample 5","t":1.85,"y":-0.39},{"s":"Sample 5","t":1.89,"y":-0.14},{"s":"Sample 5","t":1.93,"y":0.11},{"s":"Sample 5","t":1.97,"y":0.24},{"s":"Sample 5","t":2.01,"y":0.31},{"s":"Sample 5","t":2.05,"y":0.31},{"s":"Sample 5","t":2.09,"y":0.56},{"s":"Sample 5","t":2.13,"y":0.74},{"s":"Sample 5","t":2.17,"y":0.81},{"s":"Sample 5","t":2.21,"y":0.79},{"s":"Sample 5","t":2.25,"y":0.76},{"s":"Sample 5","t":2.29,"y":0.59},{"s":"Sample 5","t":2.33,"y":0.41},{"s":"Sample 5","t":2.37,"y":0.26},{"s":"Sample 5","t":2.4,"y":0.29},{"s":"Sample 5","t":2.44,"y":0.24},{"s":"Sample 5","t":2.48,"y":0.19},{"s":"Sample 5","t":2.52,"y":0.36},{"s":"Sample 5","t":2.56,"y":0.46},{"s":"Sample 5","t":2.6,"y":0.46},{"s":"Sample 5","t":2.64,"y":0.44},{"s":"Sample 5","t":2.68,"y":0.39},{"s":"Sample 5","t":2.72,"y":0.6},{"s":"Sample 5","t":2.77,"y":0.71},{"s":"Sample 5","t":2.81,"y":0.71},{"s":"Sample 5","t":2.85,"y":0.86},{"s":"Sample 5","t":2.91,"y":0.78},{"s":"Sample 5","t":2.95,"y":0.74},{"s":"Sample 5","t":2.99,"y":0.7},{"s":"Sample 5","t":3.02,"y":0.61},{"s":"Sample 5","t":3.05,"y":0.36},{"s":"Sample 5","t":3.09,"y":0.04},{"s":"Sample 5","t":3.13,"y":0.1},{"s":"Sample 5","t":3.16,"y":0.06},{"s":"Sample 5","t":3.19,"y":-0.01},{"s":"Sample 5","t":3.21,"y":-0.24},{"s":"Sample 5","t":3.27,"y":-0.34},{"s":"Sample 5","t":3.31,"y":-0.39},{"s":"Sample 5","t":3.35,"y":-0.34},{"s":"Sample 5","t":3.39,"y":-0.14},{"s":"Sample 5","t":3.43,"y":-0.12},{"s":"Sample 5","t":3.49,"y":-0.14},{"s":"Sample 5","t":3.53,"y":0.16},{"s":"Sample 5","t":3.56,"y":0.46},{"s":"Sample 5","t":3.59,"y":0.39},{"s":"Sample 5","t":3.63,"y":0.06},{"s":"Sample 5","t":3.67,"y":-0.24},{"s":"Sample 5","t":3.71,"y":-0.33},{"s":"Sample 5","t":3.75,"y":-0.46},{"s":"Sample 5","t":3.79,"y":-0.14},{"s":"Sample 5","t":3.83,"y":0.21},{"s":"Sample 5","t":3.9,"y":0.24},{"s":"Sample 5","t":3.96,"y":0.26},{"s":"Sample 5","t":4.02,"y":0.36},{"s":"Sample 5","t":4.05,"y":0.46},{"s":"Sample 5","t":4.1,"y":0.34},{"s":"Sample 5","t":4.14,"y":0.36},{"s":"Sample 5","t":4.17,"y":0.41},{"s":"Sample 5","t":4.21,"y":0.41},{"s":"Sample 5","t":4.25,"y":0.49},{"s":"Sample 5","t":4.29,"y":0.44},{"s":"Sample 5","t":4.33,"y":0.49},{"s":"Sample 5","t":4.37,"y":0.51},{"s":"Sample 5","t":4.41,"y":0.36},{"s":"Sample 5","t":4.45,"y":0.24},{"s":"Sample 5","t":4.49,"y":0.16},{"s":"Sample 5","t":4.53,"y":0.14},{"s":"Sample 5","t":4.57,"y":0.09},{"s":"Sample 5","t":4.61,"y":0.01},{"s":"Sample 5","t":4.65,"y":0.29},{"s":"Sample 5","t":4.69,"y":0.11},{"s":"Sample 5","t":4.73,"y":-0.04},{"s":"Sample 5","t":4.77,"y":-0.24},{"s":"Sample 5","t":4.81,"y":-0.26},{"s":"Sample 5","t":4.83,"y":-0.59},{"s":"Sample 5","t":4.87,"y":-0.71},{"s":"Sample 5","t":4.91,"y":-0.66},{"s":"Sample 5","t":4.95,"y":-0.59},{"s":"Sample 5","t":4.99,"y":-0.39},{"s":"Sample 5","t":5.01,"y":-0.21},{"s":"Sample 5","t":5.05,"y":-0.44},{"s":"Sample 5","t":5.09,"y":-0.66},{"s":"Sample 5","t":5.13,"y":-0.54},{"s":"Sample 5","t":5.17,"y":-0.39},{"s":"Sample 5","t":5.21,"y":-0.29},{"s":"Sample 5","t":5.25,"y":-0.14},{"s":"Sample 5","t":5.29,"y":0.06},{"s":"Sample 5","t":5.33,"y":0.16},{"s":"Sample 5","t":5.37,"y":0.26},{"s":"Sample 5","t":5.41,"y":0.29},{"s":"Sample 5","t":5.45,"y":0.21},{"s":"Sample 5","t":5.49,"y":0.26},{"s":"Sample 5","t":5.52,"y":0.26},{"s":"Sample 5","t":5.56,"y":0.06},{"s":"Sample 5","t":5.6,"y":0.51},{"s":"Sample 5","t":5.64,"y":0.56},{"s":"Sample 5","t":5.68,"y":0.59},{"s":"Sample 5","t":5.71,"y":0.51},{"s":"Sample 5","t":5.75,"y":0.41},{"s":"Sample 5","t":5.79,"y":0.44},{"s":"Sample 5","t":5.83,"y":0.39},{"s":"Sample 5","t":5.87,"y":0.26},{"s":"Sample 5","t":5.91,"y":0.16},{"s":"Sample 5","t":5.95,"y":0.01},{"s":"Sample 5","t":5.99,"y":0.06},{"s":"Sample 5","t":6.03,"y":-0.01},{"s":"Sample 5","t":6.07,"y":0.06},{"s":"Sample 5","t":6.11,"y":0.01},{"s":"Sample 5","t":6.15,"y":0.51},{"s":"Sample 5","t":6.19,"y":0.51},{"s":"Sample 5","t":6.23,"y":0.39},{"s":"Sample 5","t":6.27,"y":0.41},{"s":"Sample 5","t":6.31,"y":0.51},{"s":"Sample 5","t":6.35,"y":0.31},{"s":"Sample 5","t":6.39,"y":0.41},{"s":"Sample 5","t":6.43,"y":0.21},{"s":"Sample 5","t":6.47,"y":0.16},{"s":"Sample 5","t":6.51,"y":0.14},{"s":"Sample 5","t":6.55,"y":-0.04},{"s":"Sample 5","t":6.59,"y":-0.29},{"s":"Sample 5","t":6.63,"y":-0.44},{"s":"Sample 5","t":6.67,"y":-0.59},{"s":"Sample 5","t":6.71,"y":-0.69},{"s":"Sample 5","t":6.75,"y":-0.64},{"s":"Sample 5","t":6.79,"y":-0.71},{"s":"Sample 5","t":6.82,"y":-0.66},{"s":"Sample 5","t":6.86,"y":-0.44},{"s":"Sample 5","t":6.9,"y":-0.39},{"s":"Sample 5","t":6.94,"y":-0.24},{"s":"Sample 5","t":6.98,"y":-0.04},{"s":"Sample 5","t":7.04,"y":-0.19},{"s":"Sample 5","t":7.08,"y":-0.29},{"s":"Sample 5","t":7.12,"y":-0.31},{"s":"Sample 5","t":7.16,"y":-0.21},{"s":"Sample 5","t":7.2,"y":-0.04},{"s":"Sample 5","t":7.24,"y":-0.26},{"s":"Sample 5","t":7.28,"y":-0.26},{"s":"Sample 5","t":7.32,"y":-0.24},{"s":"Sample 5","t":7.36,"y":-0.11},{"s":"Sample 5","t":7.4,"y":0.01},{"s":"Sample 5","t":7.44,"y":0.16},{"s":"Sample 5","t":7.48,"y":0.29},{"s":"Sample 5","t":7.52,"y":0.34},{"s":"Sample 5","t":7.56,"y":0.41},{"s":"Sample 5","t":7.6,"y":0.26},{"s":"Sample 5","t":7.64,"y":0.24},{"s":"Sample 5","t":7.68,"y":0.16},{"s":"Sample 5","t":7.71,"y":0.14},{"s":"Sample 5","t":7.75,"y":0.06},{"s":"Sample 5","t":7.79,"y":-0.04},{"s":"Sample 5","t":7.83,"y":-0.11},{"s":"Sample 5","t":7.87,"y":-0.19},{"s":"Sample 5","t":7.91,"y":-0.31},{"s":"Sample 5","t":7.95,"y":-0.54},{"s":"Sample 5","t":7.97,"y":-0.41},{"s":"Sample 5","t":8.0,"y":-0.34},
{"s":"Mean value of particles","t":0,"y":0.93},{"s":"Mean value of particles","t":0.05,"y":0.47},{"s":"Mean value of particles","t":0.3,"y":0.17},{"s":"Mean value of particles","t":8,"y":0.17}
]},
"layer":[
{"transform":[{"filter":"datum.s !== 'Mean value of particles'"}],
"mark":{"type":"line","strokeWidth":2,"strokeJoin":"round"},
"encoding":{
"x":{"field":"t","type":"quantitative","scale":{"domain":[0,8],"nice":false,"zero":false},"axis":{"values":[0,1,2,3,4,5,6,7,8],"labelPadding":12.5,"title":"t","titleFontStyle":"italic","titleFontSize":14,"titleX":336,"titleY":25,"titleBaseline":"middle","titleAlign":"center"}},
"y":{"field":"y","type":"quantitative","scale":{"domain":[-1.5,2.5],"nice":false,"zero":false},"axis":{"values":[-1.5,-1,-0.5,0,0.5,1,1.5,2,2.5],"labelExpr":"toString(datum.value)","labelPadding":20.5,"title":"Y","titleFontSize":13,"titleX":-29,"titleY":133,"titleBaseline":"middle","titleAlign":"center","titleAngle":-90}},
"color":{"field":"s","type":"nominal","scale":{"domain":["Sample 1","Sample 2","Sample 3","Sample 4","Sample 5","Mean value of particles"],"range":["#FF0000","#D95319","#00FF00","#0000FF","#000000","#FF00FF"]},
"legend":{"title":null,"orient":"none","legendX":535.3,"legendY":9.3,"symbolType":"stroke","symbolSize":289,"symbolOffset":7,"labelOffset":10,"labelFont":"Liberation Serif","labelFontSize":10,"labelColor":"#000000","padding":1.5,"clipHeight":9,"rowPadding":2.4,"fillColor":"white","strokeColor":"#262626",
"encode":{"symbols":{"update":{"strokeWidth":{"signal":"datum.value === 'Mean value of particles' ? 8 : 2.5"},"strokeDash":{"value":[1,0]},"strokeCap":{"value":"butt"}}},"legend":{"update":{"strokeWidth":{"value":1.3}}}}}}
}},
{"transform":[{"filter":"datum.s === 'Mean value of particles'"}],
"mark":{"type":"line","strokeWidth":8,"strokeDash":[28.5,29.23],"strokeDashOffset":55.66,"strokeCap":"butt"},
"encoding":{
"x":{"field":"t","type":"quantitative","axis":{"orient":"top","values":[0,1,2,3,4,5,6,7,8],"labels":false,"title":null}},
"y":{"field":"y","type":"quantitative","axis":{"orient":"right","values":[-1.5,-1,-0.5,0,0.5,1,1.5,2,2.5],"labels":false,"title":null}},
"color":{"field":"s","type":"nominal"}
}}
],
"resolve":{"axis":{"x":"independent","y":"independent"}}
}
